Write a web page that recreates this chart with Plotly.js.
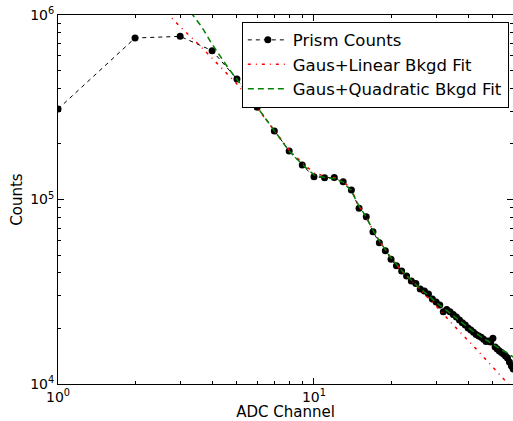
<!DOCTYPE html>
<html>
<head>
<meta charset="utf-8">
<script src="https://cdn.plot.ly/plotly-3.0.1.min.js"></script>
<style>html,body{margin:0;padding:0;background:#fff;}#chart{width:513px;height:421px;}</style>
</head>
<body>
<div id="chart"></div>
<script>
// Prism counts per ADC channel
const channels = [1,2,3,4,5,6,7,8,9,10,11,12,13,14,15,16,17,18,19,20,21,22,23,24,25,26,27,28,29,30,31,32,33,34,35,36,37,38,39,40,41,42,43,44,45,46,47,48,49,50,51,52,53,54,55,56,57,58,59,60];
const counts = [309400,750500,766000,641000,450000,316000,235100,183200,153800,132900,131300,131500,124900,112600,89600,80700,66900,58300,52800,47400,43800,41000,38500,36200,35100,32700,31900,30700,28900,27800,26800,24600,25300,24600,23800,23100,22200,21500,20900,20100,19600,19100,18550,18200,17900,17500,17000,17100,16900,17700,15870,15470,15100,14820,14540,14180,13830,13160,12520,12060];

// Gaus + Linear background fit
const linFitX = [2.65,3,3.5,4,5,6,7,8,9,10,11,12,13,14,15,16,17,18,20,22,25,28,30.6,34,36.6,42.2,48.7,55.7,60];
const linFitY = [1030000,864000,705000,585000,423000,313000,235000,185500,158000,139200,134000,131500,126000,112600,92200,80300,68300,59600,48200,41000,34400,29300,25700,21800,19630,15930,12840,10420,9330];

// Gaus + Quadratic background fit
const quadFitX = [3.3,3.43,3.64,3.98,4.23,4.63,5,6,7,8,9,10,11,12,13,14,15,16,17,18,20,22,25,28,30,35,40,45,50,55,57.4,60];
const quadFitY = [1035000,960000,864000,702000,620000,514000,448000,317000,235000,183000,155000,136000,131500,130000,124000,111000,92200,80300,68300,59600,48200,41200,34600,30000,27650,23500,20200,18000,16370,15100,14670,14000];

// Tick labels
const xTickVals = [1, 10];
const xTickText = ['10<sup>0</sup>', '10<sup>1</sup>'];
const yTickVals = [10000, 100000, 1000000];
const yTickText = ['10<sup>4</sup>', '10<sup>5</sup>', '10<sup>6</sup>'];

const font = "DejaVu Sans, sans-serif";

const traces = [
  {x: channels, y: counts, name: 'Prism Counts', mode: 'lines+markers', type: 'scatter',
   line: {color: 'black', width: 1, dash: '4px,4px'},
   marker: {color: 'black', size: 7, symbol: 'circle'}},
  {x: linFitX, y: linFitY, name: 'Gaus+Linear Bkgd Fit', mode: 'lines', type: 'scatter',
   line: {color: 'red', width: 1.5, dash: '3px,5px,1px,5px'}},
  {x: quadFitX, y: quadFitY, name: 'Gaus+Quadratic Bkgd Fit', mode: 'lines', type: 'scatter',
   line: {color: 'green', width: 1.5, dash: '6px,4px'}}
];

const layout = {
  width: 513, height: 421,
  margin: {l: 58, r: 0, t: 15, b: 37, pad: 0},
  paper_bgcolor: 'white', plot_bgcolor: 'white',
  font: {family: font, size: 13, color: 'black'},
  showlegend: true,
  legend: {x: 0.404, y: 0.982, xanchor: 'left', yanchor: 'top',
    bgcolor: 'white', bordercolor: 'black', borderwidth: 1, itemwidth: 40,
    font: {family: font, size: 16.5, color: 'black'}, tracegroupgap: 0},
  xaxis: {type: 'log', range: [0, Math.log10(59.9)],
    tickmode: 'array', tickvals: xTickVals, ticktext: xTickText,
    showgrid: false, zeroline: false,
    showline: true, linecolor: 'black', linewidth: 1, mirror: 'ticks',
    ticks: 'inside', ticklen: 6, tickcolor: 'black',
    minor: {ticks: 'inside', ticklen: 3, tickcolor: 'black', dtick: 'D1', showgrid: false},
    tickfont: {family: font, size: 14},
    title: {text: 'ADC Channel', font: {family: font, size: 15}, standoff: 4}},
  yaxis: {type: 'log', range: [4, 6],
    tickmode: 'array', tickvals: yTickVals, ticktext: yTickText,
    showgrid: false, zeroline: false,
    showline: true, linecolor: 'black', linewidth: 1, mirror: 'ticks',
    ticks: 'inside', ticklen: 6, tickcolor: 'black',
    minor: {ticks: 'inside', ticklen: 3, tickcolor: 'black', dtick: 'D1', showgrid: false},
    tickfont: {family: font, size: 14},
    title: {text: 'Counts', font: {family: font, size: 15}, standoff: 3}}
};

Plotly.newPlot('chart', traces, layout, {displayModeBar: false, staticPlot: true});
</script>
</body>
</html>
